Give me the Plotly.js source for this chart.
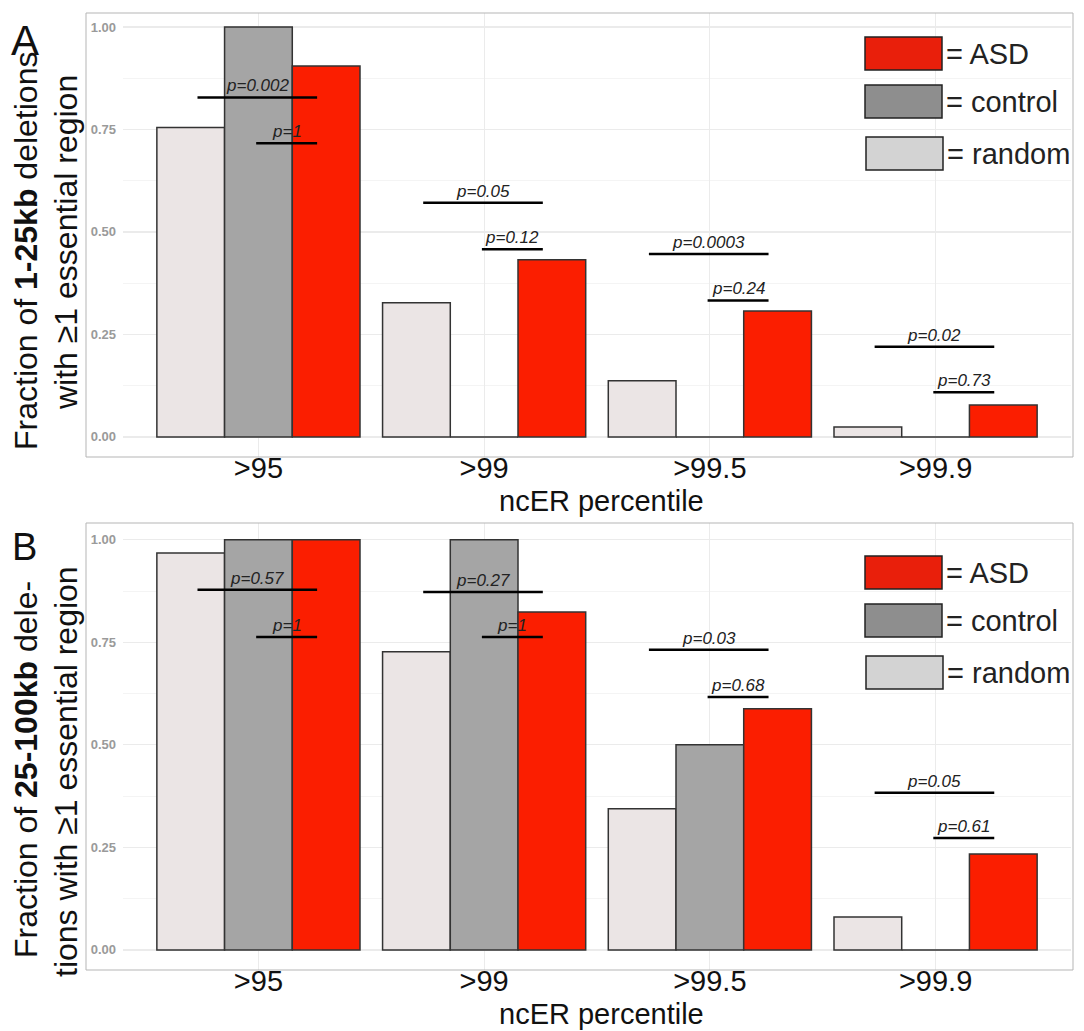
<!DOCTYPE html>
<html>
<head>
<meta charset="utf-8">
<script src="https://cdn.plot.ly/plotly-3.0.1.min.js"></script>
<style>
html,body{margin:0;padding:0;background:#fff;}
#chart{width:1084px;height:1031px;}
</style>
</head>
<body>
<div id="chart"></div>
<script>
// ---------- data ----------
const categories = [">95", ">99", ">99.5", ">99.9"];

// Panel A: 1-25kb deletions
const A_random  = [0.755, 0.327, 0.137, 0.024];
const A_control = [1.000, 0.000, 0.000, 0.000];
const A_asd     = [0.905, 0.432, 0.307, 0.078];
const A_pAll    = ["p=0.002", "p=0.05", "p=0.0003", "p=0.02"];
const A_pAllY   = [0.828, 0.571, 0.446, 0.220];
const A_pCtl    = ["p=1", "p=0.12", "p=0.24", "p=0.73"];
const A_pCtlY   = [0.716, 0.458, 0.333, 0.109];

// Panel B: 25-100kb deletions
const B_random  = [0.968, 0.727, 0.344, 0.080];
const B_control = [1.000, 1.000, 0.500, 0.000];
const B_asd     = [1.000, 0.824, 0.588, 0.234];
const B_pAll    = ["p=0.57", "p=0.27", "p=0.03", "p=0.05"];
const B_pAllY   = [0.878, 0.873, 0.732, 0.383];
const B_pCtl    = ["p=1", "p=1", "p=0.68", "p=0.61"];
const B_pCtlY   = [0.763, 0.763, 0.617, 0.273];

const legendLabels = ["= ASD", "= control", "= random"];

// ---------- style ----------
const W = 1084, H = 1031;
const px = v => v / W;
const py = v => 1 - v / H;
const FONT = "Liberation Sans, Arial, sans-serif";
const barColors = {random: "#ebe5e5", control: "#a5a5a5", asd: "#fb1e00"};
const legColors = ["#e91f0b", "#8e8e8e", "#d3d3d3"];
const lineStyle = {color: "#333333", width: 1.5};

function barTrace(y, color, name, xa, ya) {
  return {
    type: "bar", x: categories, y: y, name: name,
    xaxis: xa, yaxis: ya,
    marker: {color: color, line: lineStyle},
    showlegend: false, hoverinfo: "y"
  };
}

const data = [
  barTrace(A_random, barColors.random, "random", "x", "y"),
  barTrace(A_control, barColors.control, "control", "x", "y"),
  barTrace(A_asd, barColors.asd, "ASD", "x", "y"),
  barTrace(B_random, barColors.random, "random", "x2", "y2"),
  barTrace(B_control, barColors.control, "control", "x2", "y2"),
  barTrace(B_asd, barColors.asd, "ASD", "x2", "y2")
];

const shapes = [];
const annotations = [];

function addPvals(texts, ys, xref, yref, off0) {
  texts.forEach((t, i) => {
    const x0 = i + off0, x1 = i + 0.26;
    shapes.push({type: "line", xref: xref, yref: yref, x0: x0, x1: x1,
      y0: ys[i], y1: ys[i], line: {color: "#000", width: 2.5}, layer: "above"});
    annotations.push({xref: xref, yref: yref, x: (x0 + x1) / 2, y: ys[i],
      text: "<i>" + t + "</i>", showarrow: false, yanchor: "bottom", yshift: 0,
      font: {family: FONT, size: 17, color: "#222"}});
  });
}
addPvals(A_pAll, A_pAllY, "x", "y", -0.27);
addPvals(A_pCtl, A_pCtlY, "x", "y", -0.01);
addPvals(B_pAll, B_pAllY, "x2", "y2", -0.27);
addPvals(B_pCtl, B_pCtlY, "x2", "y2", -0.01);

// outer panel borders
[[13, 457], [523, 970]].forEach(([t, b]) => {
  shapes.push({type: "rect", xref: "paper", yref: "paper",
    x0: px(86), x1: px(1073), y0: py(b), y1: py(t),
    line: {color: "#b5b5b5", width: 1}, fillcolor: "rgba(0,0,0,0)", layer: "above"});
});

// legends
function addLegend(tops) {
  tops.forEach((top, i) => {
    const x0 = i === 2 ? 866 : 865, x1 = i === 2 ? 943 : 942;
    shapes.push({type: "rect", xref: "paper", yref: "paper",
      x0: px(x0), x1: px(x1), y0: py(top + 33), y1: py(top),
      fillcolor: legColors[i], line: {color: "#222", width: 1.5}, layer: "above"});
    annotations.push({xref: "paper", yref: "paper", x: px(x1 + 2), y: py(top + 17),
      xanchor: "left", yanchor: "middle", showarrow: false, text: legendLabels[i],
      font: {family: FONT, size: 29, color: "#222"}});
  });
}
addLegend([37, 85, 137]);
addLegend([556, 604, 656]);

// panel letters
annotations.push({xref: "paper", yref: "paper", x: px(9), y: py(40), xanchor: "left", yanchor: "middle",
  text: "A", showarrow: false, font: {family: FONT, size: 42, color: "#111"}});
annotations.push({xref: "paper", yref: "paper", x: px(10), y: py(547), xanchor: "left", yanchor: "middle",
  text: "B", showarrow: false, font: {family: FONT, size: 38, color: "#111"}});

// y titles
function yTitle(text, xc, yc) {
  annotations.push({xref: "paper", yref: "paper", x: px(xc), y: py(yc), textangle: -90,
    xanchor: "center", yanchor: "middle", showarrow: false, text: text,
    font: {family: FONT, size: 32, color: "#111"}});
}
yTitle("Fraction of <b>1-25kb</b> deletions", 26, 251);
yTitle("with ≥1 essential region", 66, 243);
yTitle("Fraction of <b>25-100kb</b> dele-", 26, 770);
yTitle("tions with ≥1 essential region", 66, 772);

// x titles
annotations.push({xref: "paper", yref: "paper", x: px(601), y: py(501), xanchor: "center", yanchor: "middle",
  text: "ncER percentile", showarrow: false, font: {family: FONT, size: 29, color: "#111"}});
annotations.push({xref: "paper", yref: "paper", x: px(601), y: py(1014), xanchor: "center", yanchor: "middle",
  text: "ncER percentile", showarrow: false, font: {family: FONT, size: 29, color: "#111"}});

function xAxis(anchor, dom) {
  return {domain: dom, anchor: anchor, type: "category", range: [-0.6, 3.6],
    showgrid: true, gridcolor: "#ebebeb", gridwidth: 1.2, zeroline: false, showline: false,
    ticks: "", ticklen: 0, ticklabelstandoff: -9,
    tickfont: {family: FONT, size: 29, color: "#111"},
    fixedrange: true};
}
function yAxis(anchor, dom, range) {
  return {domain: dom, anchor: anchor, range: range, tickvals: [0, 0.25, 0.5, 0.75, 1],
    ticktext: ["0.00", "0.25", "0.50", "0.75", "1.00"],
    showgrid: true, gridcolor: "#ebebeb", gridwidth: 1.2, zeroline: false, showline: false,
    ticks: "", ticklen: 0, ticklabelstandoff: 6,
    tickfont: {family: FONT, size: 13, color: "#9a9a9a", weight: "bold"},
    minor: {tickvals: [0.125, 0.375, 0.625, 0.875], showgrid: true, gridcolor: "#f4f4f4", gridwidth: 1},
    fixedrange: true};
}

const xdom = [px(123), px(1071)];
const layout = {
  width: W, height: H,
  margin: {l: 0, r: 0, t: 0, b: 0},
  paper_bgcolor: "#fff", plot_bgcolor: "#fff",
  barmode: "group", bargap: 0.1, bargroupgap: 0,
  showlegend: false,
  xaxis: xAxis("y", xdom),
  yaxis: yAxis("x", [py(457), py(13)], [-0.049, 1.034]),
  xaxis2: xAxis("y2", xdom),
  yaxis2: yAxis("x2", [py(970), py(523)], [-0.049, 1.041]),
  shapes: shapes,
  annotations: annotations
};

Plotly.newPlot("chart", data, layout, {displayModeBar: false, staticPlot: true});
</script>
</body>
</html>
